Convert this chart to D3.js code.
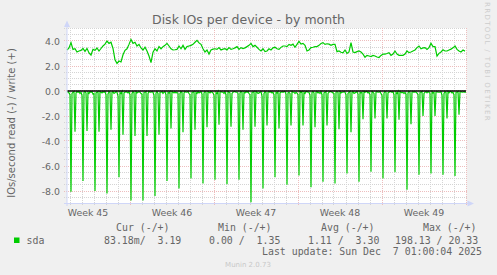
<!DOCTYPE html>
<html><head><meta charset="utf-8">
<script src="https://cdn.jsdelivr.net/npm/d3@7"></script>
<style>body{margin:0;background:#F0F0F0;} svg{display:block;} text{white-space:pre;}</style>
</head><body><svg id="c" width="497" height="275"></svg>
<script>
// ---- data ----
const chartTitle = "Disk IOs per device - by month";
const yAxisLabel = "IOs/second read (-) / write (+)";
const sideLabel = "RRDTOOL / TOBI OETIKER";
const footerLabel = "Munin 2.0.73";
const startTime = "2025-11-03T17:00:00Z";
const endTime = "2025-12-07T01:00:00Z";
const yDomain = [-9, 5];
const yTickValues = [4, 2, 0, -2, -4, -6, -8];
const yTickLabels = ["4.0", "2.0", "0.0", "-2.0", "-4.0", "-6.0", "-8.0"];
const weekStarts = ["2025-11-02", "2025-11-09", "2025-11-16", "2025-11-23", "2025-11-30"];
const weekLabels = ["Week 45", "Week 46", "Week 47", "Week 48", "Week 49"];
const seriesName = "sda";
const legendHeaders = ["Cur (-/+)", "Min (-/+)", "Avg (-/+)", "Max (-/+)"];
const legendValues = ["83.18m/  3.19", "0.00 /  1.35", "1.11 /  3.30", "198.13 / 20.33"];
const lastUpdate = "Last update: Sun Dec  7 01:00:04 2025";

// write IOs/s, one value every 4 hours
const writeValues = [
3.28,3.45,3.87,3.33,3.38,3.12,3.2,3.25,3.41,3.17,
3.41,3.05,2.88,3.33,3.25,3.44,3.2,3.4,3.6,3.75,
4.0,3.81,3.9,3.4,2.5,2.21,2.4,2.32,2.9,3.25,
3.38,3.73,4.13,3.81,3.9,3.6,3.73,3.44,3.28,3.5,
3.2,2.8,2.27,3.1,3.38,3.2,3.55,3.38,3.55,3.65,
3.81,3.6,3.38,3.28,3.3,3.33,3.6,3.38,3.65,3.33,
3.55,3.6,3.65,3.73,3.9,4.05,3.85,3.73,3.38,3.12,
3.28,2.95,3.28,3.35,3.38,3.33,3.47,3.28,3.35,3.38,
3.28,3.47,3.33,3.38,3.45,3.55,3.33,3.47,3.4,3.45,
3.55,3.65,3.81,3.55,3.65,3.5,3.33,3.2,3.38,3.15,
3.2,3.38,3.28,3.45,3.5,3.38,3.33,3.49,3.6,3.6,
3.55,3.73,3.65,3.75,3.5,3.73,3.97,3.75,3.81,3.65,
3.2,3.28,3.47,3.5,3.55,3.55,3.65,3.8,3.87,3.73,
3.78,3.75,3.65,3.73,3.73,3.15,3.2,3.1,3.05,3.28,
3.01,3.12,3.87,3.12,3.07,3.15,3.2,3.12,2.95,2.7,
2.85,2.8,2.75,2.85,2.8,2.72,2.68,2.85,2.95,2.95,
3.0,3.07,2.85,2.95,3.2,2.95,2.85,2.85,2.85,2.95,
3.2,3.07,3.12,3.2,3.28,3.47,3.6,3.38,3.45,3.47,
3.33,3.47,3.81,3.55,3.55,2.8,3.01,3.12,3.3,3.2,
3.2,3.28,3.35,3.45,3.6,3.33,3.2,3.12,3.28,3.19
];

// read IOs/s (drawn downwards), one value every 2 hours, one row per day
const readValues = [
0.1,0.05,0.15,0.3,8.05,0.2,0.1,0.05,3.25,0.15,0.05,0.1,
0.05,0.2,0.1,0.35,7.2,0.1,0.05,0.15,3.2,0.1,0.2,0.05,
0.1,0.05,0.25,0.2,8.0,0.15,0.1,0.05,3.25,0.05,0.1,0.15,
0.05,0.1,0.05,0.3,8.2,0.25,0.05,0.1,3.1,0.1,0.05,0.2,
0.15,0.05,0.1,0.4,6.9,0.1,0.2,0.05,3.5,0.15,0.1,0.05,
0.1,0.15,0.05,0.3,8.75,0.2,0.05,0.1,3.6,0.05,0.15,0.1,
0.05,0.1,0.2,0.25,8.75,0.1,0.1,0.05,3.6,0.2,0.05,0.1,
0.1,0.05,0.1,0.35,8.4,0.15,0.05,0.2,3.5,0.1,0.1,0.05,
0.2,0.1,0.05,0.3,7.2,0.1,0.15,0.05,3.0,0.05,0.1,0.15,
0.05,0.15,0.1,0.2,7.8,0.2,0.05,0.1,3.3,0.15,0.05,0.1,
0.1,0.05,0.2,0.3,7.0,0.1,0.1,0.05,3.1,0.1,0.2,0.05,
0.15,0.1,0.05,0.25,7.4,0.15,0.05,0.1,2.9,0.05,0.1,0.15,
0.05,0.1,0.15,0.35,7.1,0.1,0.2,0.05,2.7,0.1,0.05,0.1,
0.1,0.2,0.05,0.3,7.45,0.05,0.1,0.15,2.85,0.2,0.1,0.05,
0.05,0.1,0.1,0.2,7.1,0.15,0.05,0.1,3.1,0.1,0.15,0.05,
0.1,0.05,0.2,0.3,8.9,0.1,0.1,0.05,2.85,0.05,0.1,0.2,
0.15,0.1,0.05,0.4,7.8,0.2,0.05,0.1,2.75,0.1,0.05,0.1,
0.05,0.15,0.1,0.3,6.9,0.1,0.15,0.05,3.0,0.15,0.1,0.05,
0.1,0.05,0.05,0.25,7.5,0.15,0.1,0.2,2.75,0.05,0.1,0.1,
0.2,0.1,0.15,0.3,6.75,0.05,0.1,0.05,2.75,0.1,0.2,0.05,
0.05,0.1,0.1,0.35,7.7,0.1,0.05,0.15,2.9,0.1,0.05,0.15,
0.1,0.2,0.05,0.3,7.25,0.15,0.1,0.05,2.75,0.2,0.1,0.05,
0.05,0.1,0.15,0.2,7.4,0.1,0.05,0.1,3.05,0.05,0.15,0.1,
0.1,0.05,0.1,0.3,6.6,0.2,0.1,0.05,3.3,0.1,0.05,0.2,
0.15,0.1,0.05,0.25,7.25,0.1,0.15,0.1,2.25,0.05,0.1,0.05,
0.05,0.15,0.1,0.3,6.45,0.05,0.1,0.2,2.2,0.1,0.05,0.1,
0.1,0.05,0.2,0.35,7.0,0.15,0.05,0.1,2.2,0.15,0.1,0.05,
0.05,0.1,0.05,0.3,6.5,0.1,0.2,0.05,2.3,0.05,0.1,0.15,
0.1,0.2,0.1,0.25,7.9,0.15,0.05,0.1,2.65,0.1,0.05,0.1,
0.05,0.1,0.15,0.3,6.7,0.1,0.1,0.05,2.0,0.2,0.1,0.05,
0.15,0.05,0.1,0.2,6.6,0.05,0.15,0.1,2.0,0.1,0.05,0.1,
0.1,0.1,0.05,0.35,6.7,0.2,0.05,0.1,2.2,0.05,0.15,0.05,
0.05,0.15,0.1,0.3,6.8,0.1,0.1,0.05,1.9,0.1,0.05,0.1,
0.1,0.05,0.1,0.083
];

// ---- drawing ----
const svg = d3.select("#c");
const W = 497, H = 275;
const plotL = 66.5, plotR = 466.5, plotT = 28.5, plotB = 203.5;
const t0 = new Date(startTime), t1 = new Date(endTime);
const x = d3.scaleUtc().domain([t0, t1]).range([plotL, plotR]);
const y = d3.scaleLinear().domain(yDomain).range([plotB, plotT]);
const HOUR = 3600e3;
const px = v => Math.round(v) + 0.5;

const fontSans = "'DejaVu Sans', sans-serif";
const fontMono = "'DejaVu Sans Mono', monospace";
const fg = "#666666";
const green = "#00CC00";
const minorC = "#D4D4D4", majorC = "#EDBDBD";

svg.append("rect").attr("width", W).attr("height", H).attr("fill", "#F0F0F0");
svg.append("rect").attr("x", 67).attr("y", 28).attr("width", 399.5).attr("height", 175.5).attr("fill", "#FFFFFF");

// grid
const minorY = d3.range(yDomain[0], yDomain[1] + 0.001, 0.5).filter(v => !yTickValues.includes(v));
const grid = svg.append("g").attr("shape-rendering", "crispEdges");
grid.selectAll(".hm").data(minorY).join("line")
  .attr("x1", 64).attr("x2", 468)
  .attr("y1", d => px(y(d) - 0.5)).attr("y2", d => px(y(d) - 0.5))
  .attr("stroke", minorC).attr("stroke-dasharray", "1,1");
const days = d3.utcDay.range(t0, t1);
const sundays = d3.utcSunday.range(t0, d3.utcDay.offset(t1, 1));
const sunSet = new Set(sundays.map(d => +d));
grid.selectAll(".vm").data(days.filter(d => !sunSet.has(+d))).join("line")
  .attr("x1", d => px(x(d) - 0.5)).attr("x2", d => px(x(d) - 0.5))
  .attr("y1", 28).attr("y2", 206)
  .attr("stroke", minorC).attr("stroke-dasharray", "1,1");
grid.selectAll(".hM").data(yTickValues).join("line")
  .attr("x1", 64).attr("x2", 468)
  .attr("y1", d => px(y(d) - 0.5)).attr("y2", d => px(y(d) - 0.5))
  .attr("stroke", majorC).attr("stroke-dasharray", "1,1");
grid.selectAll(".vM").data(sundays).join("line")
  .attr("x1", d => px(x(d) - 0.5)).attr("x2", d => px(x(d) - 0.5))
  .attr("y1", 28).attr("y2", 206)
  .attr("stroke", majorC).attr("stroke-dasharray", "1,1");

// data lines
const readPts = readValues.map((v, i) => [new Date(+t0 + i * 2 * HOUR + HOUR), -v]);
const writePts = writeValues.map((v, i) => [new Date(+t0 + i * 4 * HOUR + HOUR), v]);
const line = d3.line().x(d => x(d[0])).y(d => y(d[1]));
svg.append("path").attr("d", line(readPts)).attr("fill", "none")
  .attr("stroke", green).attr("stroke-width", 1.2);
svg.append("path").attr("d", line(writePts)).attr("fill", "none")
  .attr("stroke", green).attr("stroke-width", 1.2);

// zero line
svg.append("line").attr("x1", 67).attr("x2", 466).attr("y1", y(0)).attr("y2", y(0))
  .attr("stroke", "#000").attr("stroke-width", 1.3);

// axes
const axisC = "#CFD6F8";
svg.append("line").attr("x1", 67).attr("x2", 67).attr("y1", 206).attr("y2", 25)
  .attr("stroke", axisC).attr("stroke-width", 1);
svg.append("path").attr("d", "M67,20.5 L64,27 L70,27 Z").attr("fill", axisC);
svg.append("line").attr("x1", 64).attr("x2", 469).attr("y1", 203.5).attr("y2", 203.5)
  .attr("stroke", axisC).attr("stroke-width", 1);
svg.append("path").attr("d", "M474,203.5 L467.5,200.5 L467.5,206.5 Z").attr("fill", axisC);

// y tick labels
svg.append("g").selectAll("text").data(yTickValues).join("text")
  .attr("x", 60).attr("y", d => y(d) + 3.5)
  .attr("text-anchor", "end").attr("font-family", fontSans).attr("font-size", 9.4)
  .attr("fill", fg).text((d, i) => yTickLabels[i]);

// week labels
svg.append("g").selectAll("text").data(weekStarts).join("text")
  .attr("x", d => x(d3.utcHour.offset(new Date(d + "T00:00:00Z"), 84)))
  .attr("y", 216.3).attr("text-anchor", "middle")
  .attr("font-family", fontSans).attr("font-size", 9.4).attr("fill", fg)
  .text((d, i) => weekLabels[i]);

// title
svg.append("text").attr("x", 248.5).attr("y", 23.5).attr("text-anchor", "middle")
  .attr("font-family", fontSans).attr("font-size", 12.5).attr("fill", fg).text(chartTitle);

// y axis label
svg.append("text").attr("transform", "translate(14.5,123) rotate(-90)")
  .attr("text-anchor", "middle").attr("font-family", fontSans).attr("font-size", 10)
  .attr("fill", fg).text(yAxisLabel);

// side label
svg.append("text").attr("transform", "translate(484.5,62) rotate(90)")
  .attr("text-anchor", "middle").attr("font-family", fontSans).attr("font-size", 7)
  .attr("letter-spacing", 1.35).attr("fill", "#CCCCCC").text(sideLabel);

// legend
const lg = svg.append("g").attr("font-family", fontMono).attr("font-size", 9.9).attr("fill", fg);
const headerX = [116, 218, 321, 423];
const valueX = [104, 209, 308, 395];
lg.selectAll(".h").data(legendHeaders).join("text")
  .attr("x", (d, i) => headerX[i]).attr("y", 231).text(d => d);
lg.selectAll(".v").data(legendValues).join("text")
  .attr("x", (d, i) => valueX[i]).attr("y", 243.6).text(d => d);
lg.append("text").attr("x", 26.5).attr("y", 243.6).text(seriesName);
lg.append("text").attr("x", 262).attr("y", 255.4).text(lastUpdate);
svg.append("rect").attr("x", 14).attr("y", 237.5).attr("width", 5.5).attr("height", 5.5).attr("fill", green);

// footer
svg.append("text").attr("x", 248).attr("y", 266.5).attr("text-anchor", "middle")
  .attr("font-family", fontSans).attr("font-size", 7).attr("fill", "#C8C8C8").text(footerLabel);
</script>
</body></html>
